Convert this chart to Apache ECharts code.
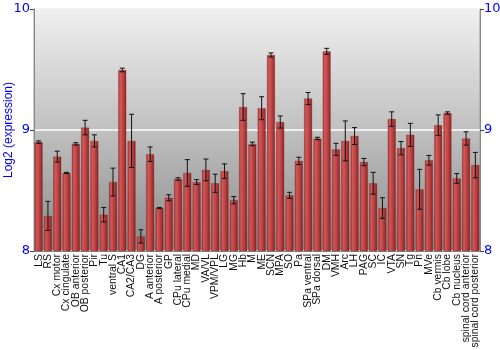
<!DOCTYPE html>
<html><head><meta charset="utf-8">
<script src="https://cdn.jsdelivr.net/npm/echarts@6/dist/echarts.min.js"></script>
<style>html,body{margin:0;padding:0;background:#fff;overflow:hidden}#c{width:500px;height:350px}</style>
</head><body><div id="c"></div>
<script>
var categories = ["LS","RS","Cx motor","Cx cingulate","OB anterior","OB posterior","Pir","Tu","ventral S","CA1","CA2/CA3","DG","A anterior","A posterior","GP","CPu lateral","CPu medial","MD","VA/VL","VPM/VPL","LG","MG","Hb","M","ME","SCN","MPA","SO","Pa","SPa ventral","SPa dorsal","DM","VMH","Arc","LH","PAG","SC","IC","VTA","SN","Tg","Pn","MVe","Cb vermis","Cb lobe","Cb nucleus","spinal cord anterior","spinal cord posterior"];
var values = [8.90,8.29,8.78,8.645,8.885,9.02,8.91,8.30,8.57,9.496,8.91,8.12,8.80,8.355,8.44,8.595,8.645,8.57,8.67,8.56,8.66,8.42,9.19,8.885,9.18,9.62,9.066,8.46,8.745,9.26,8.93,9.65,8.84,8.91,8.95,8.735,8.56,8.355,9.09,8.85,8.96,8.51,8.75,9.04,9.14,8.60,8.93,8.71];
var errors = [0.01,0.12,0.045,0.005,0.01,0.06,0.05,0.06,0.115,0.015,0.22,0.055,0.06,0.005,0.025,0.01,0.11,0.02,0.09,0.075,0.06,0.03,0.11,0.015,0.095,0.017,0.05,0.025,0.03,0.05,0.01,0.025,0.05,0.165,0.07,0.03,0.09,0.085,0.06,0.055,0.095,0.165,0.04,0.085,0.01,0.04,0.055,0.105];
var yTicks = [8,9,10];

var chart = echarts.init(document.getElementById('c'), null, {renderer:'canvas'});
var errData = values.map(function(v,i){ return [i, v - errors[i], v + errors[i]]; });
var barGrad = new echarts.graphic.LinearGradient(0,0,1,0,[
  {offset:0,color:'#a82a2a'},{offset:0.25,color:'#d35454'},{offset:0.55,color:'#c04040'},{offset:1,color:'#8a1c1c'}]);
var bgGrad = new echarts.graphic.LinearGradient(0,0,0,1,[
  {offset:0,color:'#f0f0f0'},{offset:0.5,color:'#c0c0c0'},{offset:1,color:'#8a8a8a'}]);
var yAxisBase = {
  type:'value', min:yTicks[0], max:yTicks[yTicks.length-1], interval:1,
  axisLine:{show:true,lineStyle:{color:'#888',width:1}},
  axisTick:{show:true,length:4,lineStyle:{color:'#444'}},
  axisLabel:{color:'#0000ff',fontSize:13,fontFamily:'DejaVu Sans',margin:4},
};
chart.setOption({
  animation:false,
  grid:{left:34,right:20,top:9,bottom:99,outerBoundsMode:'none',containLabel:false,show:true,backgroundColor:bgGrad,borderColor:'#999',borderWidth:1},
  xAxis:{type:'category',data:categories,
    axisLine:{show:true,lineStyle:{color:'#888'}},axisTick:{show:false},
    axisLabel:{interval:0,rotate:90,color:'#111',fontSize:10.4,fontFamily:'Liberation Sans',margin:3}},
  yAxis:[
    Object.assign({},yAxisBase,{position:'left',name:'Log2 (expression)',nameLocation:'middle',nameGap:19,nameMoveOverlap:false,
      nameTextStyle:{color:'#0000ff',fontSize:12,fontFamily:'Liberation Sans'},
      splitLine:{show:true,lineStyle:{color:'#ffffff',width:1.5}}}),
    Object.assign({},yAxisBase,{position:'right',splitLine:{show:false}})
  ],
  series:[
    {type:'bar',data:values,barWidth:'86%',yAxisIndex:0,
      itemStyle:{color:barGrad,borderColor:'rgba(110,20,20,0.6)',borderWidth:0.5,opacity:0.95}},
    {type:'custom',data:errData,yAxisIndex:0,z:10,
      renderItem:function(params,api){
        var x=api.value(0), lo=api.coord([x,api.value(1)]), hi=api.coord([x,api.value(2)]);
        var cw=2.5, st={stroke:'#111',lineWidth:1};
        return {type:'group',children:[
          {type:'line',shape:{x1:lo[0],y1:lo[1],x2:hi[0],y2:hi[1]},style:st},
          {type:'line',shape:{x1:lo[0]-cw,y1:lo[1],x2:lo[0]+cw,y2:lo[1]},style:st},
          {type:'line',shape:{x1:hi[0]-cw,y1:hi[1],x2:hi[0]+cw,y2:hi[1]},style:st}
        ]};
      }}
  ]
});
</script></body></html>
